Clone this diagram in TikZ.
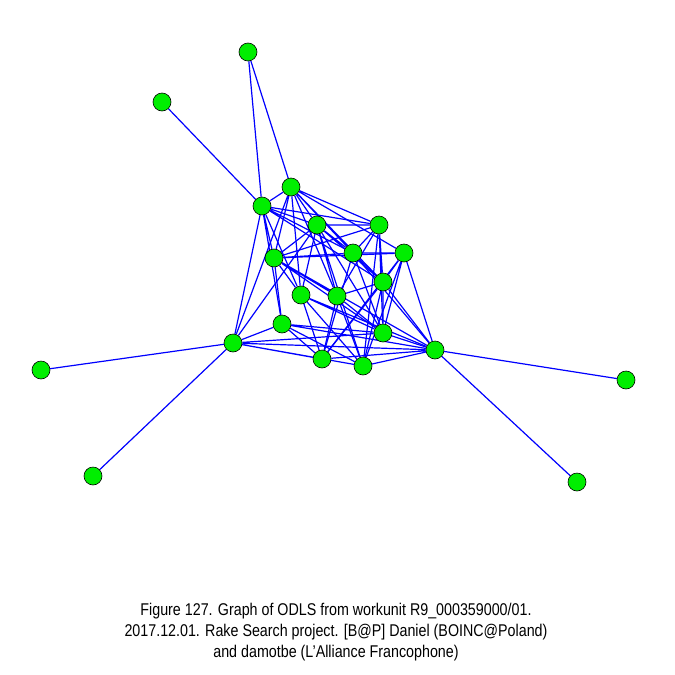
\documentclass[tikz,border=0pt]{standalone}
\usepackage{fontspec}
\setmainfont{Liberation Sans}[FakeStretch=0.84]
\usetikzlibrary{backgrounds}
\definecolor{vgreen}{RGB}{0,238,0}

\begin{document}
\begin{tikzpicture}[x=1pt, y=-1pt,
	vtx/.style={circle, draw=black, fill=vgreen, line width=0.6pt, minimum size=18pt, inner sep=0pt},
	edge/.style={blue, line width=1.2pt}]
	\useasboundingbox (0,0) rectangle (675,675);
	% vertices
	\node[vtx] (v1) at (248,52) {};
	\node[vtx] (v2) at (162,102) {};
	\node[vtx] (v3) at (291,187) {};
	\node[vtx] (v4) at (262,206) {};
	\node[vtx] (v5) at (317,225) {};
	\node[vtx] (v6) at (379,225) {};
	\node[vtx] (v7) at (353,253) {};
	\node[vtx] (v8) at (404,253) {};
	\node[vtx] (v9) at (274,258) {};
	\node[vtx] (v10) at (383,282) {};
	\node[vtx] (v11) at (301,295) {};
	\node[vtx] (v12) at (337,296) {};
	\node[vtx] (v13) at (282,324) {};
	\node[vtx] (v14) at (383,333) {};
	\node[vtx] (v15) at (233,343) {};
	\node[vtx] (v16) at (435,350) {};
	\node[vtx] (v17) at (322,359) {};
	\node[vtx] (v18) at (363,366) {};
	\node[vtx] (v19) at (41,370) {};
	\node[vtx] (v20) at (626,380) {};
	\node[vtx] (v21) at (93,476) {};
	\node[vtx] (v22) at (577,482) {};
	% edges
	\begin{pgfonlayer}{background}
	\draw[edge] (v1) -- (v3) (v1) -- (v4) (v2) -- (v4)
		(v19) -- (v15) (v21) -- (v15) (v20) -- (v16) (v22) -- (v16);
	\draw[edge] (v3) -- (v4) (v3) -- (v5) (v3) -- (v6) (v3) -- (v7) (v3) -- (v8)
		(v3) -- (v9) (v3) -- (v10) (v3) -- (v11) (v3) -- (v12) (v3) -- (v15);
	\draw[edge] (v4) -- (v5) (v4) -- (v6) (v4) -- (v7) (v4) -- (v9) (v4) -- (v10)
		(v4) -- (v13) (v4) -- (v15) (v4) -- (v11);
	\draw[edge] (v5) -- (v6) (v5) -- (v7) (v5) -- (v9) (v5) -- (v10) (v5) -- (v12)
		(v5) -- (v14) (v5) -- (v11) (v5) -- (v18) (v5) -- (v15);
	\draw[edge] (v6) -- (v7) (v6) -- (v9) (v6) -- (v10) (v6) -- (v12) (v6) -- (v14)
		(v6) -- (v18);
	\draw[edge] (v7) -- (v8) (v7) -- (v9) (v7) -- (v10) (v7) -- (v14) (v7) -- (v16)
		(v7) -- (v17);
	\draw[edge] (v8) -- (v9) (v8) -- (v10) (v8) -- (v14) (v8) -- (v16) (v8) -- (v17)
		(v8) -- (v18);
	\draw[edge] (v9) -- (v11) (v9) -- (v13) (v9) -- (v14) (v9) -- (v16) (v9) -- (v12);
	\draw[edge] (v10) -- (v12) (v10) -- (v14) (v10) -- (v16) (v10) -- (v17) (v10) -- (v18);
	\draw[edge] (v11) -- (v14) (v11) -- (v16) (v11) -- (v17) (v11) -- (v18);
	\draw[edge] (v12) -- (v14) (v12) -- (v17) (v12) -- (v18);
	\draw[edge] (v13) -- (v14) (v13) -- (v16) (v13) -- (v17) (v13) -- (v18) (v13) -- (v15);
	\draw[edge] (v14) -- (v15) (v14) -- (v16) (v15) -- (v16) (v15) -- (v17) (v15) -- (v18)
		(v16) -- (v17) (v16) -- (v18);
	\end{pgfonlayer}
	% caption
	\node[align=center, font=\fontsize{17}{21}\selectfont] (cap) at (336,632)
		{Figure 127. Graph of ODLS from workunit R9\_000359000/01.\\
		2017.12.01. Rake Search project. [B@P] Daniel (BOINC@Poland)\\
		and damotbe (L'Alliance Francophone)};
\end{tikzpicture}
\end{document}
